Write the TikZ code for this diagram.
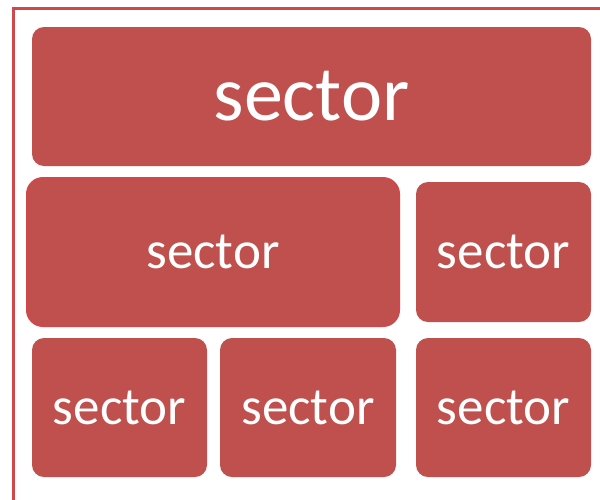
\documentclass[tikz,border=0pt]{standalone}
\usepackage{fontspec}
\setmainfont{Carlito}
\usepackage{tikz}
\usetikzlibrary{positioning}
\usepackage{xcolor}
\definecolor{sectorred}{RGB}{192,80,77}
\definecolor{framered}{RGB}{208,72,75}
\tikzstyle{sectorbox} = [rectangle, rounded corners=12pt, inner sep=0pt, outer sep=0pt, text centered, fill=sectorred, text=white, font=\fontsize{53}{53}\selectfont]
\tikzstyle{frameline} = [draw=framered, line width=3pt]

\begin{document}
\begin{tikzpicture}[x=1pt,y=-1pt]
\useasboundingbox (0,0) rectangle (600,499);
% Outer frame
\draw[frameline] (13.5,505) -- (13.5,8.5) -- (606,8.5);

% Top sector
\node[sectorbox, minimum width=559pt, minimum height=139pt, font=\fontsize{78}{78}\selectfont] (top) at (311.5,96.5) {sector};

% Middle row
\node[sectorbox, rounded corners=16pt, draw=framered, line width=2pt, minimum width=372pt, minimum height=148pt] (midleft) at (213,252) {sector};
\node[sectorbox, minimum width=175pt, minimum height=140pt] (midright) at (503.5,252) {sector};

% Bottom row
\node[sectorbox, minimum width=175pt, minimum height=139pt] (botleft) at (119.5,407.5) {sector};
\node[sectorbox, minimum width=176pt, minimum height=139pt] (botmid) at (308,407.5) {sector};
\node[sectorbox, minimum width=175pt, minimum height=139pt] (botright) at (503.5,407.5) {sector};
\end{tikzpicture}
\end{document}
